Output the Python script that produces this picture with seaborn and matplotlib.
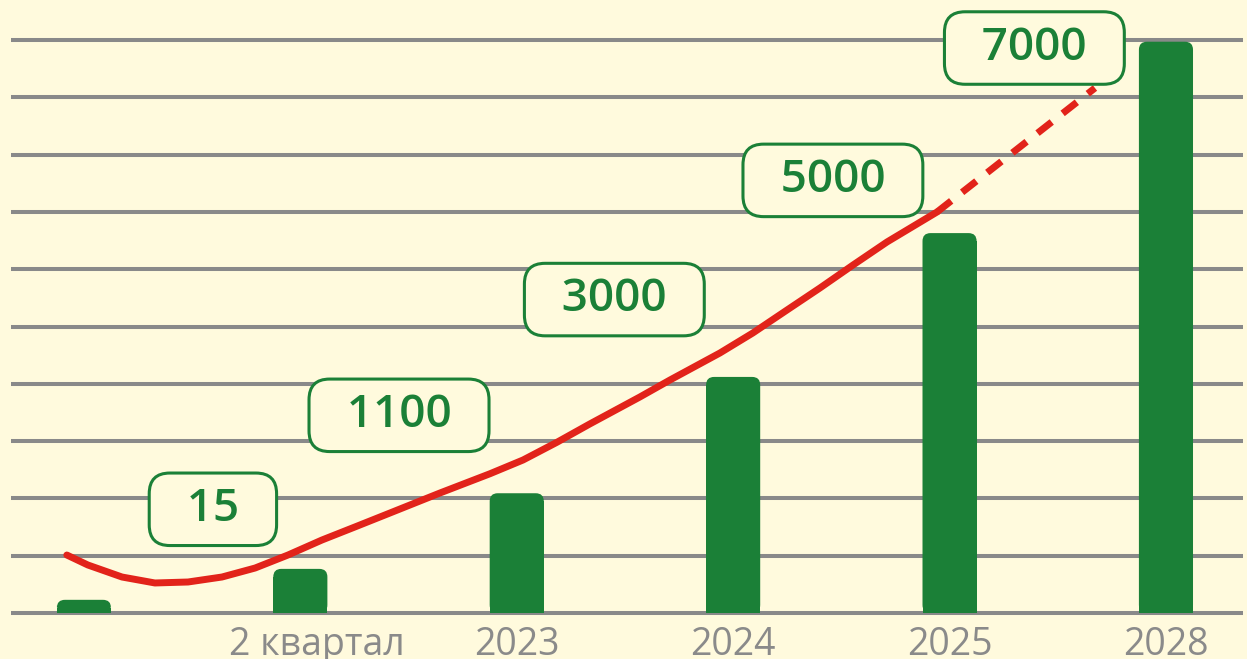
import matplotlib
matplotlib.use("Agg")
import matplotlib.pyplot as plt
import matplotlib.transforms as mtransforms
import seaborn as sns
import pandas as pd
from matplotlib.patches import FancyBboxPatch

# data
categories = ["", "2 квартал", "2023", "2024", "2025", "2028"]
bar_values = [0.23, 0.77, 2.09, 4.12, 6.63, 9.97]

# red trend line, solid part then forecast part
trend_x = [-0.079, 0.018, 0.176, 0.328, 0.481, 0.638, 0.791, 0.943, 1.100, 1.252, 1.414,
           1.645, 1.876, 2.029, 2.186, 2.338, 2.569, 2.708, 2.939, 3.091, 3.249, 3.401,
           3.554, 3.711, 3.942]
trend_y = [1.012, 0.838, 0.628, 0.524, 0.541, 0.628, 0.785, 1.012, 1.274, 1.501, 1.745,
           2.094, 2.43, 2.670, 2.98, 3.30, 3.77, 4.066, 4.538, 4.887, 5.288, 5.672,
           6.073, 6.475, 6.998]
forecast_x = [3.942, 4.672]
forecast_y = [6.998, 9.162]

label_texts = ["15", "1100", "3000", "5000", "7000"]
label_x = [0.596, 1.456, 2.451, 3.461, 4.392]
label_y = [1.81, 3.45, 5.47, 7.55, 9.86]

BG = "#fffadd"
GREEN = "#1b8037"
RED = "#e2231a"
GRID = "#898989"
TICK = "#8a8a8a"

sns.set_theme(style="whitegrid", rc={
    "axes.facecolor": BG, "figure.facecolor": BG,
    "grid.color": GRID, "grid.linewidth": 2.9,
    "axes.axisbelow": True,
})
plt.rcParams["font.family"] = ["Open Sans", "DejaVu Sans"]

fig = plt.figure(figsize=(12.47, 6.59), dpi=100)
ax = fig.add_axes([11 / 1247, 39 / 659, 1232 / 1247, 620 / 659])

df = pd.DataFrame({"cat": categories, "val": bar_values})
sns.barplot(data=df, x="cat", y="val", color=GREEN, saturation=1, width=0.25, ax=ax)

# round the top corners of the bars
px_x, px_y = 216.4, 57.3
rx, ry = 8 / px_x, 8 / px_y
for p in list(ax.patches):
    x0, w, h = p.get_x(), p.get_width(), p.get_height()
    p.set_height(max(h - ry, 0))
    p.set_linewidth(0)
    ax.add_patch(FancyBboxPatch((x0, 0), w, h, boxstyle=f"round,pad=0,rounding_size={rx}",
                                mutation_aspect=ry / rx, facecolor=GREEN, edgecolor="none", zorder=2))

sns.lineplot(x=trend_x, y=trend_y, sort=False, estimator=None, color=RED, linewidth=5, ax=ax, zorder=4)
sns.lineplot(x=forecast_x, y=forecast_y, sort=False, estimator=None, color=RED, linewidth=5, ax=ax, zorder=4)
ax.lines[-1].set_dashes([2.6, 2.0])
ax.lines[-1].set_dash_capstyle("butt")
ax.lines[-2].set_solid_joinstyle("round")

for t, x, y in zip(label_texts, label_x, label_y):
    ax.text(x, y, "  " + t + "  ", ha="center", va="center", fontsize=33, fontweight="semibold",
            color=GREEN, zorder=5,
            bbox=dict(boxstyle="round,pad=0.3,rounding_size=0.45", facecolor=BG, edgecolor=GREEN, linewidth=2.2))

ax.set_xlim(-0.337, 5.356)
ax.set_ylim(-7 / px_y, 613 / px_y)
ax.set_yticks(range(0, 11))
ax.set_yticklabels([])
ax.grid(axis="x", visible=False)
ax.tick_params(axis="x", length=0, pad=4, labelsize=27, labelcolor=TICK)
ax.tick_params(axis="y", length=0)
ax.set_xlabel("")
ax.set_ylabel("")
for s in ax.spines.values():
    s.set_visible(False)

# "2 квартал" sits a bit right of its bar in the original
lbl = ax.get_xticklabels()[1]
lbl.set_transform(lbl.get_transform() + mtransforms.ScaledTranslation(17 / 100, 0, fig.dpi_scale_trans))

fig.savefig("out.png", dpi=100, facecolor=BG)
